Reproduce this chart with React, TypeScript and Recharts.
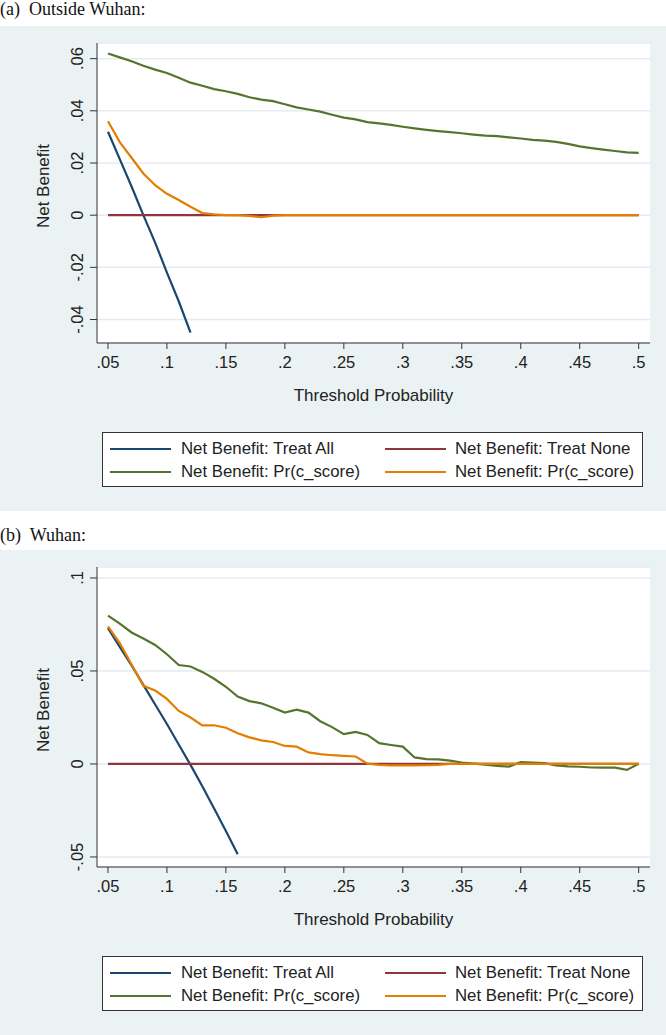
import React from 'react';
import { LineChart, Line, XAxis, YAxis, CartesianGrid, Label } from 'recharts';

// threshold probabilities on the x axis
const thresholds = [
  0.05, 0.06, 0.07, 0.08, 0.09, 0.1, 0.11, 0.12, 0.13, 0.14,
  0.15, 0.16, 0.17, 0.18, 0.19, 0.2, 0.21, 0.22, 0.23, 0.24,
  0.25, 0.26, 0.27, 0.28, 0.29, 0.3, 0.31, 0.32, 0.33, 0.34,
  0.35, 0.36, 0.37, 0.38, 0.39, 0.4, 0.41, 0.42, 0.43, 0.44,
  0.45, 0.46, 0.47, 0.48, 0.49, 0.5,
];
const xTicks = [0.05, 0.1, 0.15, 0.2, 0.25, 0.3, 0.35, 0.4, 0.45, 0.5];

// (a) Outside Wuhan
const treatAllA = [0.032, 0.0215, 0.011, 0.0, -0.0105, -0.022, -0.033, -0.045];
const treatNoneA = [
  0, 0, 0, 0, 0, 0, 0, 0, 0, 0, 0, 0, 0, 0, 0, 0, 0, 0, 0, 0, 0, 0, 0,
  0, 0, 0, 0, 0, 0, 0, 0, 0, 0, 0, 0, 0, 0, 0, 0, 0, 0, 0, 0, 0, 0, 0,
];
const scoreGreenA = [
  0.062, 0.0605, 0.059, 0.0573, 0.0558, 0.0545, 0.0527, 0.0508, 0.0496, 0.0483,
  0.0475, 0.0465, 0.0452, 0.0443, 0.0437, 0.0425, 0.0413, 0.0405, 0.0397, 0.0385,
  0.0374, 0.0367, 0.0357, 0.0352, 0.0346, 0.0339, 0.0333, 0.0327, 0.0322, 0.0318,
  0.0314, 0.0309, 0.0305, 0.0303, 0.0298, 0.0294, 0.0289, 0.0286, 0.0281, 0.0273,
  0.0264, 0.0257, 0.0251, 0.0246, 0.0241, 0.0239,
];
const scoreOrangeA = [
  0.036, 0.028, 0.022, 0.016, 0.0115, 0.0082, 0.0058, 0.0032, 0.0008, 0.0003,
  0, 0, -0.0003, -0.0008, -0.0002, 0, 0, 0, 0, 0,
  0, 0, 0, 0, 0, 0, 0, 0, 0, 0,
  0, 0, 0, 0, 0, 0, 0, 0, 0, 0,
  0, 0, 0, 0, 0, 0,
];
const yTicksA = [-0.04, -0.02, 0, 0.02, 0.04, 0.06];

// (b) Wuhan
const treatAllB = [0.073, 0.063, 0.053, 0.0425, 0.032, 0.0215, 0.0105, -0.0005, -0.012, -0.024, -0.036, -0.0485];
const treatNoneB = [
  0, 0, 0, 0, 0, 0, 0, 0, 0, 0, 0, 0, 0, 0, 0, 0, 0, 0, 0, 0, 0, 0, 0,
  0, 0, 0, 0, 0, 0, 0, 0, 0, 0, 0, 0, 0, 0, 0, 0, 0, 0, 0, 0, 0, 0, 0,
];
const scoreGreenB = [
  0.0798, 0.0755, 0.0707, 0.0675, 0.064, 0.059, 0.0532, 0.0524, 0.0495, 0.0458,
  0.0415, 0.0362, 0.0338, 0.0326, 0.0302, 0.0276, 0.0292, 0.0276, 0.023, 0.0198,
  0.016, 0.0172, 0.0156, 0.0112, 0.0102, 0.0093, 0.0035, 0.0026, 0.0025, 0.0018,
  0.0008, 0.0002, -0.0004, -0.001, -0.0014, 0.001, 0.0007, 0.0004, -0.0008, -0.0013,
  -0.0015, -0.0019, -0.002, -0.002, -0.0032, 0.0001,
];
const scoreOrangeB = [
  0.074, 0.065, 0.0535, 0.042, 0.0395, 0.035, 0.0285, 0.025, 0.0207, 0.0208,
  0.0195, 0.0165, 0.0143, 0.0127, 0.0118, 0.0097, 0.0093, 0.0062, 0.0053, 0.0047,
  0.0044, 0.004, 0.0002, -0.0005, -0.0008, -0.0008, -0.0008, -0.0007, -0.0005, 0,
  0, 0, 0, 0, 0, 0, 0, 0, 0, 0,
  0, 0, 0, 0, 0, 0,
];
const yTicksB = [-0.05, 0, 0.05, 0.1];

const series = [
  { key: 'all', name: 'Net Benefit: Treat All', color: '#1a476f' },
  { key: 'none', name: 'Net Benefit: Treat None', color: '#90353b' },
  { key: 'green', name: 'Net Benefit: Pr(c_score)', color: '#55752f' },
  { key: 'orange', name: 'Net Benefit: Pr(c_score)', color: '#e37e00' },
];

const buildRows = (all: number[], none: number[], green: number[], orange: number[]) =>
  thresholds.map((t, i) => ({
    t,
    all: i < all.length ? all[i] : null,
    none: none[i],
    green: green[i],
    orange: orange[i],
  }));

const rowsA = buildRows(treatAllA, treatNoneA, scoreGreenA, scoreOrangeA);
const rowsB = buildRows(treatAllB, treatNoneB, scoreGreenB, scoreOrangeB);

const FONT = '"Liberation Sans", Arial, sans-serif';
const PANEL_BG = '#eaf2f3';
const AXIS = '#333';

// Stata-style numbers: .05, -.02, 0
const fmt = (v: number) => {
  if (v === 0) return '0';
  const s = String(Math.abs(+v.toFixed(3))).replace(/^0/, '');
  return (v < 0 ? '-' : '') + s;
};

const YTick = ({ x, y, payload }: any) => {
  const bx = x - 5;
  return (
    <text
      x={bx}
      y={y}
      transform={`rotate(-90, ${bx}, ${y})`}
      textAnchor="middle"
      fontSize={16.5}
      fontFamily={FONT}
      fill="#222"
    >
      {fmt(payload.value)}
    </text>
  );
};

const YTitle = ({ viewBox }: any) => {
  const bx = 49;
  const cy = viewBox.y + viewBox.height / 2 - 7;
  return (
    <text
      x={bx}
      y={cy}
      transform={`rotate(-90, ${bx}, ${cy})`}
      textAnchor="middle"
      fontSize={17}
      fontFamily={FONT}
      fill="#222"
    >
      Net Benefit
    </text>
  );
};

const LegendBox = () => (
  <div
    style={{
      position: 'absolute',
      left: 102,
      top: 406,
      width: 541,
      height: 55,
      border: '1px solid #333',
      background: '#fff',
      boxSizing: 'border-box',
      fontFamily: FONT,
      fontSize: 16.8,
      color: '#222',
    }}
  >
    {series.map((s, i) => {
      const col = i % 2;
      const row = Math.floor(i / 2);
      const cy = row === 0 ? 16 : 39;
      return (
        <React.Fragment key={i}>
          <div
            style={{
              position: 'absolute',
              left: col === 0 ? 7 : 282,
              top: cy - 1,
              width: 61,
              height: 2,
              background: s.color,
            }}
          />
          <div
            style={{
              position: 'absolute',
              left: col === 0 ? 78 : 352,
              top: cy - 10,
              lineHeight: '20px',
              whiteSpace: 'nowrap',
            }}
          >
            {s.name}
          </div>
        </React.Fragment>
      );
    })}
  </div>
);

const Panel = ({ rows, yDomain, yTicks }: { rows: any[]; yDomain: [number, number]; yTicks: number[] }) => (
  <div style={{ position: 'relative', width: 666, height: 485, background: PANEL_BG }}>
    <LineChart width={666} height={485} data={rows} margin={{ top: 17, right: 16, bottom: 0, left: 0 }}>
      <CartesianGrid vertical={false} stroke="#e4ecef" strokeWidth={1.5} fill="#fff" />
      <XAxis
        type="number"
        dataKey="t"
        domain={[0.0407, 0.5096]}
        ticks={xTicks}
        tickFormatter={fmt}
        allowDataOverflow
        height={168}
        tickSize={6}
        tickMargin={7}
        stroke={AXIS}
        tick={{ fontSize: 16.5, fontFamily: FONT, fill: '#222' }}
      >
        <Label
          value="Threshold Probability"
          position="insideTop"
          offset={46}
          style={{ fontSize: 17, fontFamily: FONT, fill: '#222' }}
        />
      </XAxis>
      <YAxis
        type="number"
        domain={yDomain}
        ticks={yTicks}
        allowDataOverflow
        width={97}
        tickSize={7}
        stroke={AXIS}
        tick={<YTick />}
        label={{ content: <YTitle /> }}
      />
      {series.map((s) => (
        <Line
          key={s.key}
          type="linear"
          dataKey={s.key}
          name={s.name}
          stroke={s.color}
          strokeWidth={2.2}
          dot={false}
          isAnimationActive={false}
        />
      ))}
    </LineChart>
    <LegendBox />
  </div>
);

const titleStyle: React.CSSProperties = {
  fontFamily: '"Liberation Serif", "Times New Roman", serif',
  fontSize: 18,
  lineHeight: '18px',
  whiteSpace: 'pre',
  color: '#111',
};

export default function App() {
  return (
    <div style={{ position: 'absolute', left: 0, top: 0, width: 666, height: 1035, background: '#fff', overflow: 'hidden' }}>
      <div style={{ ...titleStyle, height: 26 }}>(a)  Outside Wuhan:</div>
      <Panel rows={rowsA} yDomain={[-0.049, 0.066]} yTicks={yTicksA} />
      <div style={{ ...titleStyle, height: 39, paddingTop: 15, boxSizing: 'border-box' }}>(b)  Wuhan:</div>
      <Panel rows={rowsB} yDomain={[-0.0554, 0.1059]} yTicks={yTicksB} />
    </div>
  );
}
